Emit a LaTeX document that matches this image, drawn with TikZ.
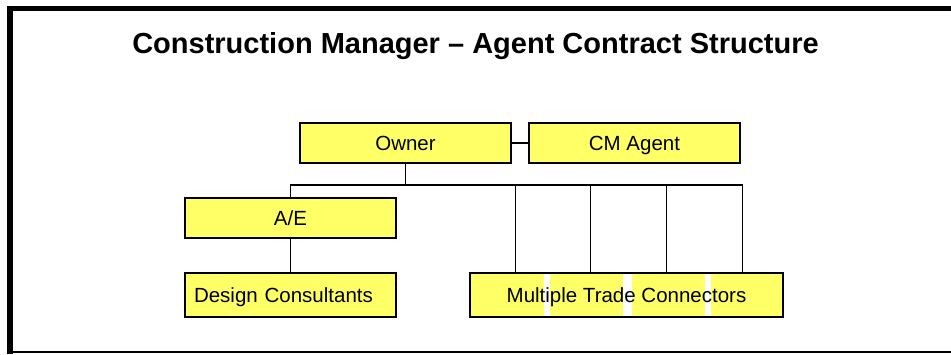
\documentclass[tikz,border=0pt]{standalone}
\usepackage{fontspec}
\setmainfont{Liberation Sans}
\usepackage{tikz}
\usetikzlibrary{calc}

\definecolor{boxyellow}{RGB}{255,255,102}

\begin{document}
\begin{tikzpicture}[x=1pt,y=-1pt]
\pgfmathsetmacro{\busY}{185}

\tikzstyle{label}=[font=\fontsize{20.5}{22}\selectfont,text height=14.7pt,text depth=0pt]
\tikzstyle{party}=[label,draw=black,line width=1.3pt,fill=boxyellow,inner sep=0pt,
  minimum width=211pt,minimum height=40pt]
\tikzstyle{link}=[line width=1.3pt]
\useasboundingbox (0,0) rectangle (951,354);

% frame
\draw[line width=5.5pt] (10,354) -- (10,8.5) -- (951,8.5);
\draw[line width=1.5pt] (10,352) -- (951,352);

\node (title) at (475.5,46) {\fontsize{29}{32}\selectfont\bfseries Construction Manager -- Agent Contract Structure};

\node[party] (owner) at (405.5,143) {Owner};
\node[party] (cm) at (634.5,143) {CM Agent};
\node[party] (ae) at (290.5,218) {A/E};
\node[party,minimum height=44pt,text width=193pt,align=left] (consult) at (290.5,295) {Design Consultants};
\node[party,minimum width=313pt,minimum height=44pt,
  path picture={
    \foreach \a/\b in {74/80,153/162,235/241}
      \fill[white] ([xshift=\a]path picture bounding box.south west) rectangle ([xshift=\b]path picture bounding box.north west);
  }] (trade) at (626.5,295) {};
\node[label] (tradetext) at (trade) {Multiple Trade Connectors};

\coordinate (busR) at (743,\busY);

\draw[link] (owner.east) -- (cm.west);
\draw[link] (owner.south) -- (owner.south |- busR);
\draw[link] (ae.north) |- (busR);
\draw[link] (ae.south) -- (consult.north);
\foreach \dx in {46,121,197,273}
  \draw[link] ([xshift=\dx]trade.north west) -- ([xshift=\dx]trade.north west |- busR);
\end{tikzpicture}
\end{document}
